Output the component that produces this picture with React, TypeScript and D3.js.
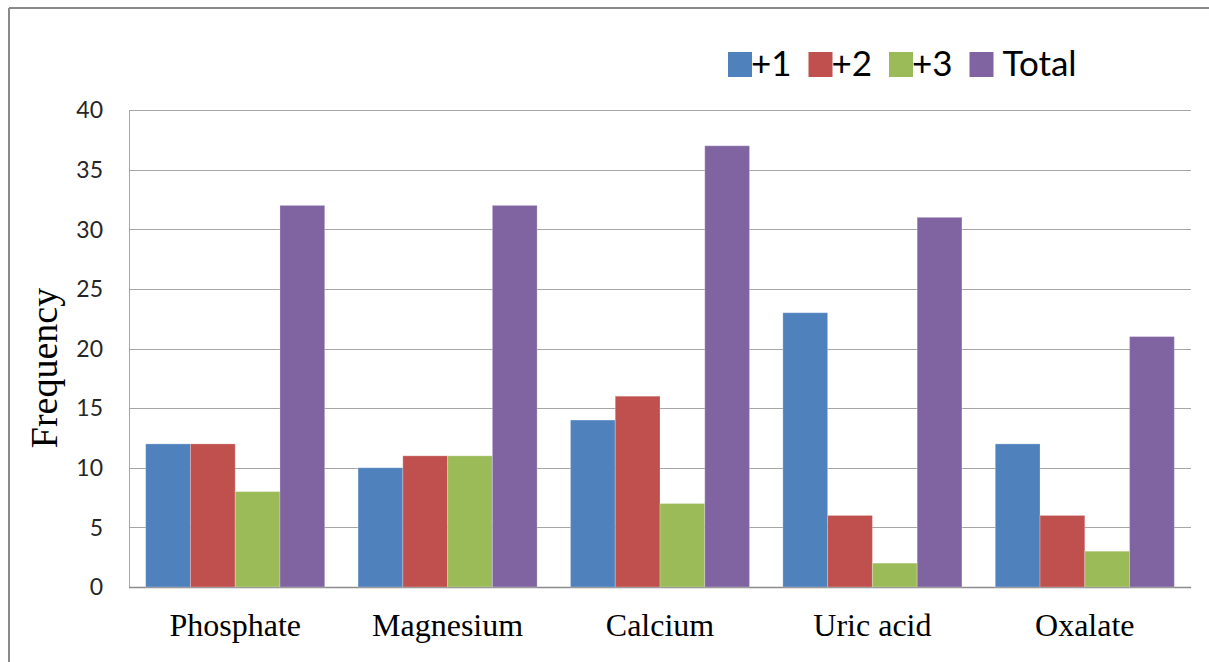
import React, { useEffect } from "react";
import * as d3 from "d3";

const categories = ["Phosphate", "Magnesium", "Calcium", "Uric acid", "Oxalate"];
const seriesNames = ["+1", "+2", "+3", "Total"];
const plus1 = [12, 10, 14, 23, 12];
const plus2 = [12, 11, 16, 6, 6];
const plus3 = [8, 11, 7, 2, 3];
const total = [32, 32, 37, 31, 21];
const seriesValues = [plus1, plus2, plus3, total];
const colors = ["#4F81BD", "#C0504D", "#9BBB59", "#8064A2"];
const yTicks = [0, 5, 10, 15, 20, 25, 30, 35, 40];

const W = 1209;
const H = 662;
const plot = { left: 129, right: 1191, top: 110, bottom: 587 };

export default function App() {
  useEffect(() => {
    document.body.style.margin = "0";
  }, []);

  const x0 = d3
    .scaleBand<string>()
    .domain(categories)
    .range([plot.left, plot.right])
    .paddingInner(0.157)
    .paddingOuter(0.157 / 2);
  const x1 = d3
    .scaleBand<string>()
    .domain(seriesNames)
    .range([0, x0.bandwidth()])
    .padding(0);
  const y = d3.scaleLinear().domain([0, 40]).range([plot.bottom, plot.top]);

  const legendX = 728;
  const legendStep = 80.5;
  const sans = "Lato, 'Open Sans', sans-serif";
  const serif = "'Liberation Serif', 'Times New Roman', serif";

  return (
    <svg width={W} height={H} style={{ display: "block" }}>
      <rect x={0} y={0} width={W} height={H} fill="#fff" />
      {/* frame */}
      <line x1={9} y1={8} x2={W} y2={8} stroke="#8a8a8a" strokeWidth={2} />
      <line x1={9} y1={8} x2={9} y2={H} stroke="#8a8a8a" strokeWidth={2} />

      {/* gridlines */}
      {yTicks.map((t) => (
        <line
          key={"g" + t}
          x1={plot.left}
          x2={plot.right}
          y1={Math.round(y(t)) + 0.5}
          y2={Math.round(y(t)) + 0.5}
          stroke={t === 0 ? "#8c8c8c" : "#a6a6a6"}
          strokeWidth={t === 0 ? 1.5 : 1}
        />
      ))}
      <line
        x1={plot.left + 0.5}
        x2={plot.left + 0.5}
        y1={plot.top}
        y2={plot.bottom}
        stroke="#a6a6a6"
        strokeWidth={1}
      />

      {/* bars */}
      {categories.map((c, ci) => (
        <g key={c} transform={`translate(${x0(c)},0)`}>
          {seriesNames.map((s, si) => {
            const v = seriesValues[si][ci];
            return (
              <rect
                key={s}
                x={x1(s)}
                y={y(v)}
                width={x1.bandwidth()}
                height={y(0) - y(v)}
                fill={colors[si]}
                stroke="rgba(255,255,255,0.25)"
                strokeWidth={1}
              />
            );
          })}
        </g>
      ))}

      {/* y tick labels */}
      {yTicks.map((t) => (
        <text
          key={"t" + t}
          x={103}
          y={y(t)}
          dy="0.36em"
          textAnchor="end"
          fontFamily={sans}
          fontSize={23}
          fill="#262626"
        >
          {t}
        </text>
      ))}

      {/* x labels */}
      {categories.map((c) => (
        <text
          key={"x" + c}
          x={(x0(c) as number) + x0.bandwidth() / 2}
          y={636}
          textAnchor="middle"
          fontFamily={serif}
          fontSize={32}
          fill="#000"
        >
          {c}
        </text>
      ))}

      {/* y axis title */}
      <text
        transform={`translate(57,368) rotate(-90)`}
        textAnchor="middle"
        fontFamily={serif}
        fontSize={38}
        fill="#000"
      >
        Frequency
      </text>

      {/* legend */}
      {seriesNames.map((s, i) => {
        const lx = legendX + i * legendStep;
        return (
          <g key={"l" + s}>
            <rect x={lx} y={52} width={24} height={25} fill={colors[i]} />
            <text
              x={lx + (s === "Total" ? 33 : 23)}
              y={76}
              fontFamily={sans}
              fontSize={35}
              fill="#000"
            >
              {s}
            </text>
          </g>
        );
      })}
    </svg>
  );
}
